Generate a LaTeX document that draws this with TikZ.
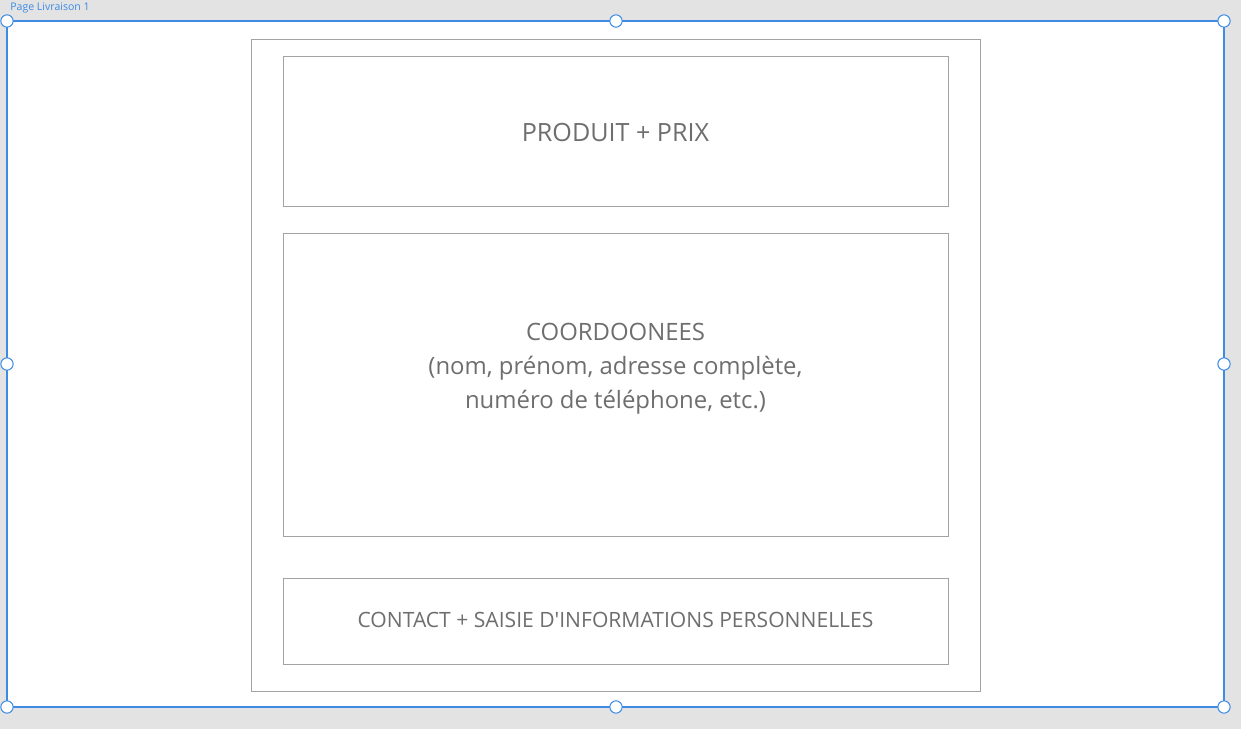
\documentclass[tikz,border=0pt]{standalone}
\usepackage{fontspec}
\setmainfont{Open Sans}
\usepackage{tikz}
\usetikzlibrary{calc}
\definecolor{selblue}{HTML}{3D8BE3}
\definecolor{boxgray}{HTML}{A3A3A3}
\definecolor{txtgray}{HTML}{6E6E6E}
\definecolor{bggray}{HTML}{E3E3E3}
\tikzset{
    handle/.style = {circle, draw = selblue, fill = white, line width = .6pt, inner sep = 0pt, minimum size = 7pt},
    bloc/.style = {draw = boxgray, line width = .45pt},
    bloctext/.style = {text = txtgray, align = center, font = \fontsize{14.3}{19.3}\selectfont}
}

\begin{document}
\begin{tikzpicture}[x=.02cm, y=-.02cm]
            \fill [bggray] (0,0) rectangle (1241,729);
            \useasboundingbox (0,0) rectangle (1241,729);
            % page frame
            \draw [selblue, fill = white, line width = .6pt] (7,21) rectangle (1224,707);
            \node [anchor = west, text = selblue, font = \fontsize{6}{7}\selectfont, inner sep = 0pt] (title) at (10,8) {Page Livraison 1};
            % content
            \draw [bloc] (251,39) rectangle (980,691);
            \draw [bloc] (283,56) rectangle (948,206);
            \draw [bloc] (283,233) rectangle (948,536);
            \draw [bloc] (283,578) rectangle (948,664);
            \node [bloctext] (produit) at (615.5,133) {PRODUIT + PRIX};
            \node [bloctext, font = \fontsize{13.6}{19.4}\selectfont] (coord) at (615.5,369) {COORDOONEES\\(nom, prénom, adresse complète,\\numéro de téléphone, etc.)};
            \node [bloctext, font = \fontsize{12}{14}\selectfont] (contact) at (615.5,620) {CONTACT + SAISIE D\textquotesingle INFORMATIONS PERSONNELLES};
            % handles
            \foreach \x/\y in {7/21, 616/21, 1224/21, 7/364, 1224/364, 7/707, 616/707, 1224/707}
                \node [handle] at (\x,\y) {};
        \end{tikzpicture}
\end{document}
